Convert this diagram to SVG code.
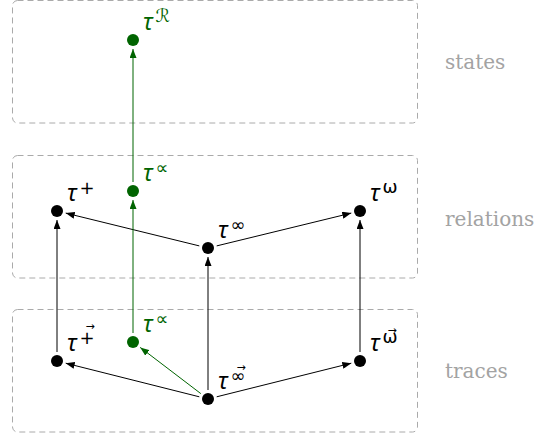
<svg xmlns="http://www.w3.org/2000/svg" width="536" height="439" viewBox="0 0 536 439">
<style>
.box{fill:none;stroke:#aaaaaa;stroke-width:1;stroke-dasharray:6 4}
.grp{font-family:"DejaVu Serif",serif;font-size:20px;fill:#a3a3a3}
.tau{font-family:"Noto Sans","DejaVu Sans",sans-serif;font-style:italic;font-size:23px;fill:#000}
.g .tau,.g .vec{fill:#006400}
.sup{font-family:"DejaVu Sans",sans-serif;font-style:normal;font-size:18px}
.vec{font-family:"DejaVu Sans",sans-serif;font-size:11px;text-anchor:middle;fill:#000}
.dot{fill:#000}
.g .dot{fill:#006400}
.e{stroke:#000;stroke-width:1;fill:none;marker-end:url(#ah)}
.eg{stroke:#006400;stroke-width:1;fill:none;marker-end:url(#ahg)}
</style>
<defs>
<marker id="ah" markerUnits="userSpaceOnUse" viewBox="0 0 9 7" markerWidth="9" markerHeight="7" refX="9" refY="3.5" orient="auto"><path d="M0,0 L9,3.5 L0,7 z" fill="#000"/></marker>
<marker id="ahg" markerUnits="userSpaceOnUse" viewBox="0 0 9 7" markerWidth="9" markerHeight="7" refX="9" refY="3.5" orient="auto"><path d="M0,0 L9,3.5 L0,7 z" fill="#006400"/></marker>
</defs>
<g id="layers">
<rect class="box" x="12.5" y="0.5" width="405" height="122.5" rx="5"/>
<rect class="box" x="12.5" y="155.5" width="405" height="122.5" rx="5"/>
<rect class="box" x="12.5" y="309.5" width="405" height="122.5" rx="5"/>
<text class="grp" x="445" y="69">states</text>
<text class="grp" x="445" y="226">relations</text>
<text class="grp" x="445" y="378">traces</text>
</g>
<g id="connectors">
<line class="e" x1="199.3" y1="396.8" x2="65.7" y2="363.2"/>
<line class="e" x1="216.7" y1="396.8" x2="351.3" y2="363.2"/>
<line class="e" x1="208" y1="390" x2="208" y2="257"/>
<line class="eg" x1="200.8" y1="393.6" x2="140.2" y2="347.4"/>
<line class="e" x1="57" y1="352" x2="57" y2="220"/>
<line class="e" x1="360" y1="352" x2="360" y2="220"/>
<line class="e" x1="199.3" y1="245.9" x2="65.7" y2="213.1"/>
<line class="e" x1="216.7" y1="245.9" x2="351.3" y2="213.1"/>
<line class="eg" x1="133" y1="333" x2="133" y2="200"/>
<line class="eg" x1="133" y1="182" x2="133" y2="49"/>
</g>
<g id="tauR" class="g"><circle class="dot" cx="133" cy="40" r="6"/><text class="tau" x="143" y="30">τ<tspan class="sup" dx="3" dy="-8">ℛ</tspan></text></g>
<g id="tauPropRel" class="g"><circle class="dot" cx="133" cy="191" r="6"/><text class="tau" x="143" y="181">τ<tspan class="sup" dx="3" dy="-7">∝</tspan></text></g>
<g id="tauPlus"><circle class="dot" cx="57" cy="211" r="6"/><text class="tau" x="67" y="201">τ<tspan class="sup" dx="3" dy="-7">+</tspan></text></g>
<g id="tauInf"><circle class="dot" cx="208" cy="248" r="6"/><text class="tau" x="218" y="238">τ<tspan class="sup" dx="3" dy="-7">∞</tspan></text></g>
<g id="tauOmega"><circle class="dot" cx="360" cy="211" r="6"/><text class="tau" x="370" y="201">τ<tspan class="sup" dx="3" dy="-8">ω</tspan></text></g>
<g id="tauPropTr" class="g"><circle class="dot" cx="133" cy="342" r="6"/><text class="tau" x="143" y="332">τ<tspan class="sup" dx="3" dy="-7">∝</tspan></text></g>
<g id="tauPlusVec"><circle class="dot" cx="57" cy="361" r="6"/><text class="tau" x="67" y="351">τ<tspan class="sup" dx="3" dy="-7">+</tspan></text><text class="vec" x="90" y="330">→</text></g>
<g id="tauInfVec"><circle class="dot" cx="208" cy="399" r="6"/><text class="tau" x="218" y="389">τ<tspan class="sup" dx="3" dy="-7">∞</tspan></text><text class="vec" x="241" y="371">→</text></g>
<g id="tauOmegaVec"><circle class="dot" cx="360" cy="361" r="6"/><text class="tau" x="370" y="351">τ<tspan class="sup" dx="3" dy="-8">ω</tspan></text><text class="vec" x="392" y="334">→</text></g>
</svg>
